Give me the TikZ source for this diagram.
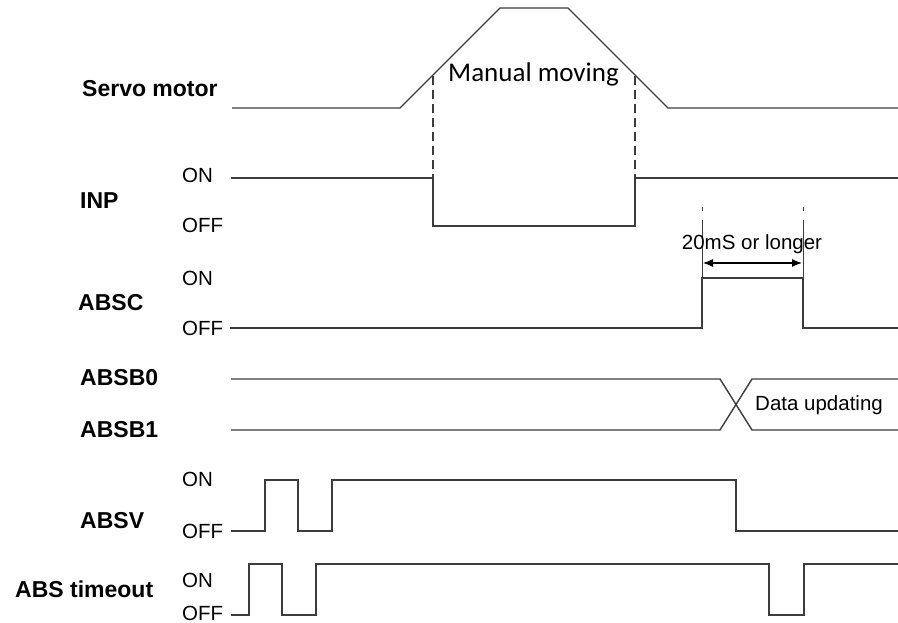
\documentclass[tikz,border=0pt]{standalone}
\usepackage{fontspec}
\setmainfont{Liberation Sans}
\newfontfamily\calib{Carlito}
\usetikzlibrary{arrows.meta}
\definecolor{wave}{HTML}{3C3C3C}
\tikzset{
  sig/.style={draw=wave,line width=1.4pt,line join=miter},
  lbl/.style={anchor=base west,inner sep=0pt,font=\fontsize{23}{26}\selectfont\bfseries},
  lvl/.style={anchor=base west,inner sep=0pt,font=\fontsize{20.5}{24}\selectfont},
  guide/.style={draw=wave,line width=1.8pt,dash pattern=on 9pt off 5pt},
  tick/.style={draw=wave,line width=1pt,dash pattern=on 4pt off 9pt on 60pt off 1pt},
}
\begin{document}
\begin{tikzpicture}[x=1pt,y=-1pt]
\useasboundingbox (0,0) rectangle (898,623);
% labels
\node[lbl] (lservo) at (82,97) {Servo motor};
\node[lbl] (linp) at (80,209) {INP};
\node[lbl] (labsc) at (78,310) {ABSC};
\node[lbl] (lb0) at (80,385) {ABSB0};
\node[lbl] (lb1) at (80,437) {ABSB1};
\node[lbl] (labsv) at (80,528) {ABSV};
\node[lbl] (lto) at (15,597) {ABS timeout};
% level labels
\node[lvl] (inpon) at (182,183) {ON};
\node[lvl] (inpoff) at (182,233) {OFF};
\node[lvl] (absccon) at (182,285) {ON};
\node[lvl] (abscoff) at (182,335) {OFF};
\node[lvl] (absvon) at (182,486) {ON};
\node[lvl] (absvoff) at (182,538) {OFF};
\node[lvl] (toon) at (182,587) {ON};
\node[lvl] (tooff) at (182,620) {OFF};
% servo motor
\draw[sig,line width=1.2pt] (232,108) -- (400,108) -- (500,8) -- (568,8) -- (668,108) -- (898,108);
\node[anchor=base west,inner sep=0pt,font=\calib\fontsize{27}{30}\selectfont] (mm) at (448,82) {Manual moving};
% guides
\draw[guide] (433,76) -- (433,178);
\draw[guide] (635,76) -- (635,178);
% INP
\draw[sig] (231,178) -- (433,178) -- (433,226) -- (635,226) -- (635,178) -- (898,178);
% ABSC
\draw[sig] (230,328) -- (702,328) -- (702,278) -- (803,278) -- (803,328) -- (898,328);
\draw[tick] (702,207) -- (702,278);
\draw[tick] (803,207) -- (803,278);
\coordinate (da) at (703,263);
\coordinate (db) at (802,263);
\draw[line width=1.2pt,black,{Latex[length=10pt,width=8pt]}-{Latex[length=10pt,width=8pt]}] (da) -- (db);
\node[anchor=base,inner sep=0pt,font=\fontsize{20.5}{24}\selectfont] (dim) at (752,250) {20mS or longer};
% ABSB
\draw[sig] (231,379) -- (720,379) -- (752,430) -- (898,430);
\draw[sig] (231,430) -- (720,430) -- (752,379) -- (898,379);
\node[anchor=base west,inner sep=0pt,font=\fontsize{20.5}{24}\selectfont] (du) at (755,410) {Data updating};
% ABSV
\draw[sig] (231,531) -- (265,531) -- (265,480) -- (298,480) -- (298,531) -- (332,531) -- (332,480) -- (736,480) -- (736,531) -- (898,531);
% ABS timeout
\draw[sig] (231,615) -- (249,615) -- (249,564) -- (282,564) -- (282,615) -- (316,615) -- (316,564) -- (769,564) -- (769,615) -- (804,615) -- (804,564) -- (898,564);
\end{tikzpicture}
\end{document}
